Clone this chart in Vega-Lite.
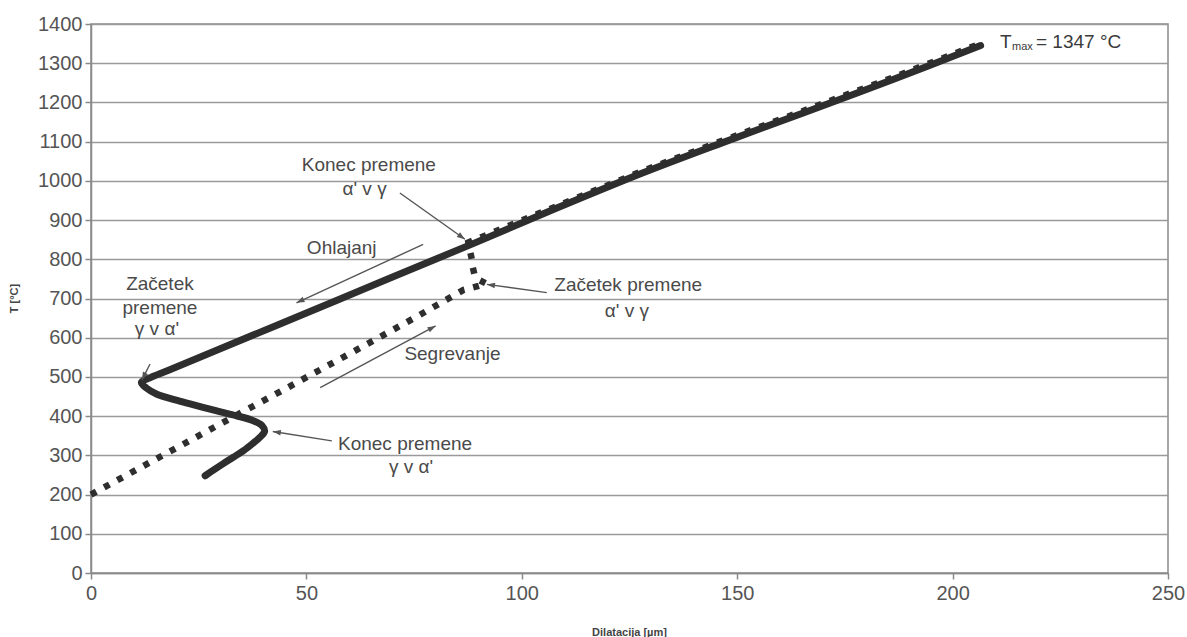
{
  "$schema": "https://vega.github.io/schema/vega-lite/v6.json",
  "width": 1077,
  "height": 549,
  "autosize": {"type": "none"},
  "padding": {"left": 91, "top": 24, "right": 19, "bottom": 64},
  "background": "#ffffff",
  "config": {
    "font": "Liberation Sans",
    "view": {"stroke": "#8a8a8a", "strokeWidth": 1.5},
    "axis": {
      "domainColor": "#8a8a8a",
      "domainWidth": 1.5,
      "tickColor": "#8a8a8a",
      "tickWidth": 1.5,
      "tickSize": 6,
      "labelFlush": false,
      "labelFont": "Liberation Sans",
      "labelFontSize": 20,
      "labelColor": "#555555",
      "titleFont": "Liberation Sans",
      "titleColor": "#444444",
      "titleFontSize": 11,
      "titleFontWeight": "bold"
    }
  },
  "datasets": {
    "curves": [
      {"s": "heat", "i": 0, "x": 0, "T": 200},
      {"s": "heat", "i": 1, "x": 15, "T": 290},
      {"s": "heat", "i": 2, "x": 30, "T": 380},
      {"s": "heat", "i": 3, "x": 45, "T": 469},
      {"s": "heat", "i": 4, "x": 60, "T": 559},
      {"s": "heat", "i": 5, "x": 75, "T": 650},
      {"s": "heat", "i": 6, "x": 86.5, "T": 722},
      {"s": "heat", "i": 7, "x": 90, "T": 732},
      {"s": "heat", "i": 8, "x": 91.8, "T": 738},
      {"s": "heat", "i": 9, "x": 90.3, "T": 746},
      {"s": "heat", "i": 10, "x": 89, "T": 762},
      {"s": "heat", "i": 11, "x": 88.6, "T": 780},
      {"s": "heat", "i": 12, "x": 88.4, "T": 800},
      {"s": "heat", "i": 13, "x": 88, "T": 820},
      {"s": "heat", "i": 14, "x": 87.6, "T": 843},
      {"s": "heat", "i": 15, "x": 108, "T": 935},
      {"s": "heat", "i": 16, "x": 128, "T": 1025},
      {"s": "heat", "i": 17, "x": 146, "T": 1100},
      {"s": "heat", "i": 18, "x": 165, "T": 1177},
      {"s": "heat", "i": 19, "x": 186, "T": 1263},
      {"s": "heat", "i": 20, "x": 206, "T": 1348},
      {"s": "cool", "i": 0, "x": 206.5, "T": 1345},
      {"s": "cool", "i": 1, "x": 186, "T": 1258},
      {"s": "cool", "i": 2, "x": 165, "T": 1172},
      {"s": "cool", "i": 3, "x": 146, "T": 1095},
      {"s": "cool", "i": 4, "x": 128, "T": 1020},
      {"s": "cool", "i": 5, "x": 108, "T": 930},
      {"s": "cool", "i": 6, "x": 88.7, "T": 840},
      {"s": "cool", "i": 7, "x": 70, "T": 755},
      {"s": "cool", "i": 8, "x": 50, "T": 663},
      {"s": "cool", "i": 9, "x": 30, "T": 572},
      {"s": "cool", "i": 10, "x": 18, "T": 517},
      {"s": "cool", "i": 11, "x": 13.5, "T": 497},
      {"s": "cool", "i": 12, "x": 11.7, "T": 486},
      {"s": "cool", "i": 13, "x": 12.8, "T": 472},
      {"s": "cool", "i": 14, "x": 15.3, "T": 456},
      {"s": "cool", "i": 15, "x": 20, "T": 440},
      {"s": "cool", "i": 16, "x": 24.5, "T": 427},
      {"s": "cool", "i": 17, "x": 29, "T": 414},
      {"s": "cool", "i": 18, "x": 33.8, "T": 401},
      {"s": "cool", "i": 19, "x": 37.5, "T": 389},
      {"s": "cool", "i": 20, "x": 39.7, "T": 376},
      {"s": "cool", "i": 21, "x": 40.3, "T": 362},
      {"s": "cool", "i": 22, "x": 39.3, "T": 347},
      {"s": "cool", "i": 23, "x": 37.5, "T": 330},
      {"s": "cool", "i": 24, "x": 35.4, "T": 312},
      {"s": "cool", "i": 25, "x": 33, "T": 295},
      {"s": "cool", "i": 26, "x": 30.7, "T": 279},
      {"s": "cool", "i": 27, "x": 28.5, "T": 263},
      {"s": "cool", "i": 28, "x": 26.5, "T": 248}
    ],
    "notes": [
      {"x": 64.5, "T": 1040, "label": "Konec premene"},
      {"x": 63.5, "T": 980, "label": "α' v γ"},
      {"x": 58.2, "T": 829, "label": "Ohlajanj"},
      {"x": 16, "T": 736, "label": "Začetek"},
      {"x": 16, "T": 677, "label": "premene"},
      {"x": 15.3, "T": 622, "label": "γ v α'"},
      {"x": 83.9, "T": 558, "label": "Segrevanje"},
      {"x": 124.7, "T": 734, "label": "Začetek premene"},
      {"x": 124.4, "T": 668, "label": "α' v γ"},
      {"x": 72.9, "T": 329, "label": "Konec premene"},
      {"x": 74.3, "T": 270, "label": "γ v α'"}
    ],
    "arrows": [
      {"x0": 71.7, "T0": 969, "x": 86.8, "T": 851},
      {"x0": 77.1, "T0": 838, "x": 47.7, "T": 689},
      {"x0": 13.7, "T0": 533, "x": 11.8, "T": 492},
      {"x0": 53.2, "T0": 473, "x": 80, "T": 630},
      {"x0": 105.8, "T0": 715, "x": 91.9, "T": 736},
      {"x0": 55.9, "T0": 337, "x": 42.2, "T": 361}
    ],
    "peak": [
      {"x": 211, "T": 1355, "sym": "T", "sub": "max", "rest": "= 1347 °C"}
    ]
  },
  "encoding": {
    "x": {
      "field": "x",
      "type": "quantitative",
      "scale": {"domain": [0, 250], "nice": false},
      "axis": {
        "values": [0, 50, 100, 150, 200, 250],
        "format": "d",
        "grid": false,
        "labelPadding": 4,
        "title": "Dilatacija [µm]",
        "titleX": 538,
        "titleY": 59,
        "titleBaseline": "middle"
      }
    },
    "y": {
      "field": "T",
      "type": "quantitative",
      "scale": {"domain": [0, 1400], "nice": false},
      "axis": {
        "values": [0, 100, 200, 300, 400, 500, 600, 700, 800, 900, 1000, 1100, 1200, 1300, 1400],
        "format": "d",
        "grid": true,
        "gridColor": "#9a9a9a",
        "gridWidth": 1.5,
        "labelPadding": 3,
        "title": "T [°C]",
        "titleAngle": -90,
        "titleX": -77,
        "titleY": 274,
        "titleAlign": "center",
        "titleBaseline": "middle"
      }
    }
  },
  "layer": [
    {
      "data": {"name": "curves"},
      "transform": [{"filter": "datum.s === 'cool'"}],
      "mark": {"type": "line", "color": "#2e2e2e", "strokeWidth": 7, "strokeCap": "round", "strokeJoin": "round", "interpolate": "catmull-rom"},
      "encoding": {"order": {"field": "i", "type": "quantitative"}}
    },
    {
      "data": {"name": "curves"},
      "transform": [{"filter": "datum.s === 'heat'"}],
      "mark": {"type": "line", "color": "#2e2e2e", "strokeWidth": 6.5, "strokeDash": [6, 9], "strokeCap": "butt"},
      "encoding": {"order": {"field": "i", "type": "quantitative"}}
    },
    {
      "data": {"name": "arrows"},
      "mark": {"type": "rule", "color": "#555555", "strokeWidth": 1.4},
      "encoding": {
        "x2": {"field": "x0"},
        "y2": {"field": "T0"}
      }
    },
    {
      "data": {"name": "arrows"},
      "transform": [
        {"calculate": "atan2((datum.x - datum.x0) * 4.308, (datum.T - datum.T0) * 0.39214) * 180 / PI", "as": "ang"}
      ],
      "mark": {"type": "point", "filled": true, "color": "#555555", "opacity": 1, "size": 90, "shape": "M0,0L-0.6,1.7L0.6,1.7Z"},
      "encoding": {
        "angle": {"field": "ang", "type": "quantitative", "scale": null}
      }
    },
    {
      "data": {"name": "notes"},
      "mark": {"type": "text", "font": "Liberation Sans", "fontSize": 19, "color": "#4a4a4a", "align": "center", "baseline": "middle"},
      "encoding": {"text": {"field": "label"}}
    },
    {
      "data": {"name": "peak"},
      "mark": {"type": "text", "font": "Liberation Sans", "fontSize": 19, "color": "#3a3a3a", "align": "left", "baseline": "middle"},
      "encoding": {"text": {"field": "sym"}}
    },
    {
      "data": {"name": "peak"},
      "mark": {"type": "text", "font": "Liberation Sans", "fontSize": 11, "color": "#3a3a3a", "align": "left", "baseline": "middle", "dx": 12, "dy": 5},
      "encoding": {"text": {"field": "sub"}}
    },
    {
      "data": {"name": "peak"},
      "mark": {"type": "text", "font": "Liberation Sans", "fontSize": 19, "color": "#3a3a3a", "align": "left", "baseline": "middle", "dx": 36},
      "encoding": {"text": {"field": "rest"}}
    }
  ]
}
